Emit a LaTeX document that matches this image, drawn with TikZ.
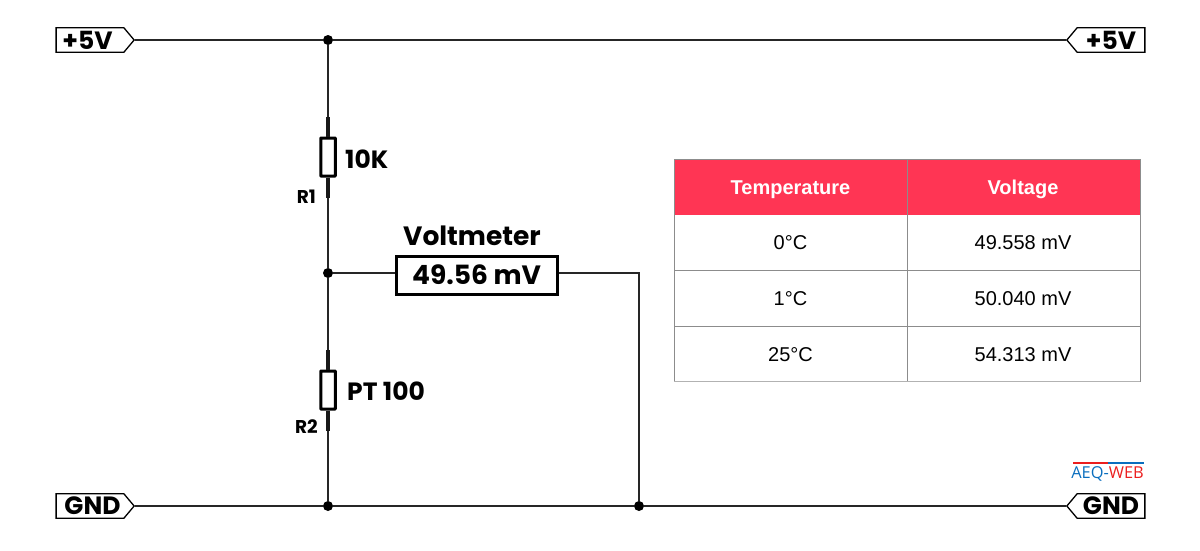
\documentclass[tikz,border=0pt]{standalone}
\usepackage{fontspec}
\setmainfont{Liberation Sans}
\newfontfamily\circuitfont{Poppins}
\newfontfamily\brandfont{Open Sans}
\usetikzlibrary{shapes.symbols,positioning}
\definecolor{headred}{RGB}{255,53,84}
\definecolor{gridgray}{RGB}{140,140,140}
\definecolor{brandblue}{RGB}{10,110,190}
\definecolor{brandred}{RGB}{235,30,30}
\newcommand\sized[1]{\fontsize{#1}{#1}\selectfont}

\begin{document}
\begin{tikzpicture}[x=1pt,y=-1pt]
  \tikzset{
    wire/.style={line width=1.9pt,black!85},
    lead/.style={line width=3.6pt,black!90},
    railtag/.style={draw,line width=1.3pt,signal,signal pointer angle=100,
      minimum width=78pt,minimum height=24.5pt,inner sep=0pt,
      font=\circuitfont\bfseries\sized{25}},
    dot/.style={circle,fill=black,inner sep=0pt,minimum size=10pt},
    resistor/.style={draw,line width=3pt,rounded corners=0.5pt,inner sep=0pt,
      minimum width=14.5pt,minimum height=38pt},
    partlabel/.style={inner sep=0pt,font=\circuitfont\bfseries\sized{25}},
    smalllabel/.style={inner sep=0pt,font=\circuitfont\bfseries\sized{18.5}},
    headcell/.style={anchor=base,inner sep=0pt,text=white,font=\bfseries\sized{20}},
    bodycell/.style={anchor=base,inner sep=0pt,text=black,font=\sized{20}},
    gridline/.style={line width=0.9pt,gridgray}
  }
  \useasboundingbox (0,0) rectangle (1200,550);

  % rail tags
  \node[railtag,signal to=east] (VccL) at (90,40) {\kern-5pt+5V};
  \node[railtag,signal to=west] (VccR) at (1111,40) {+5V};
  \node[railtag,signal to=east] (GndL) at (90,506) {\kern5pt GND};
  \node[railtag,signal to=west] (GndR) at (1111,506) {GND};

  % junctions
  \node[dot] (JTop) at (328,40) {};
  \node[dot] (JMid) at (328,273) {};
  \node[dot] (JBot) at (328,506) {};
  \node[dot] (JRet) at (639,506) {};

  % parts
  \node[resistor] (R1) at (328,157) {};
  \node[resistor] (R2) at (328,390) {};
  \node[draw,line width=3pt,inner sep=0pt,minimum width=161pt,minimum height=38pt,
    font=\circuitfont\bfseries\sized{26.5}] (Meter) at (476.5,275) {49.56 mV};
  \node[partlabel,anchor=west] (R1val) at (345,159) {10K};
  \node[partlabel,anchor=west] (R2val) at (347,391) {PT 100};
  \node[smalllabel,anchor=east] (R1name) at (316,197) {R1};
  \node[smalllabel,anchor=east] (R2name) at (318,427) {R2};
  \node[inner sep=0pt,font=\circuitfont\bfseries\sized{26.5}] (MeterName) at (472,236) {Voltmeter};

  % wiring
  \draw[wire] (VccL.east) -- (JTop) -- (VccR.west);
  \draw[wire] (GndL.east) -- (JBot) -- (JRet) -- (GndR.west);
  \draw[wire] (JTop) -- (R1) -- (JMid) -- (R2) -- (JBot);
  % the meter leads sit a little above the middle of the box
  \coordinate (MeterIn) at (Meter.west |- JMid);
  \coordinate (MeterOut) at (Meter.east |- JMid);
  \coordinate (Corner) at (JRet |- JMid);
  \draw[wire] (JMid) -- (MeterIn);
  \draw[wire] (MeterOut) -- (Corner) -- (JRet);

  % thick stubs on the resistors
  \draw[lead] (R1.north) -- ++(0,-20);
  \draw[lead] (R1.south) -- ++(0,20);
  \draw[lead] (R2.north) -- ++(0,-20);
  \draw[lead] (R2.south) -- ++(0,20);

  % table
  \fill[headred] (674,159) rectangle (1140,214.5);
  \draw[gridline] (674,159) -- (1140,159);
  \draw[gridline] (674,159) -- (674,382);
  \draw[gridline] (907,159) -- (907,382);
  \draw[gridline] (1140,159) -- (1140,382);
  \draw[gridline] (674,270) -- (1140,270);
  \draw[gridline] (674,326) -- (1140,326);
  \draw[line width=1pt,black!30] (674,381.5) -- (1140,381.5);
  \node[headcell] (HeadT) at (790.5,194.3) {Temperature};
  \node[headcell] (HeadV) at (1023,194.3) {Voltage};
  \node[bodycell] (T0) at (790.5,249.5) {0°C};
  \node[bodycell] (V0) at (1023,249.5) {49.558 mV};
  \node[bodycell] (T1) at (790.5,305.5) {1°C};
  \node[bodycell] (V1) at (1023,305.5) {50.040 mV};
  \node[bodycell] (T2) at (790.5,361.5) {25°C};
  \node[bodycell] (V2) at (1023,361.5) {54.313 mV};

  % brand mark
  \draw[line width=1.8pt,brandred] (1073,463) -- (1108,463);
  \draw[line width=1.8pt,brandblue] (1108,463) -- (1144,463);
  \node[inner sep=0pt,anchor=base east,font=\brandfont\sized{16.4}] (Brand) at (1144,478)
    {\textcolor{brandblue}{AEQ-}\textcolor{brandred}{WEB}};
\end{tikzpicture}
\end{document}
